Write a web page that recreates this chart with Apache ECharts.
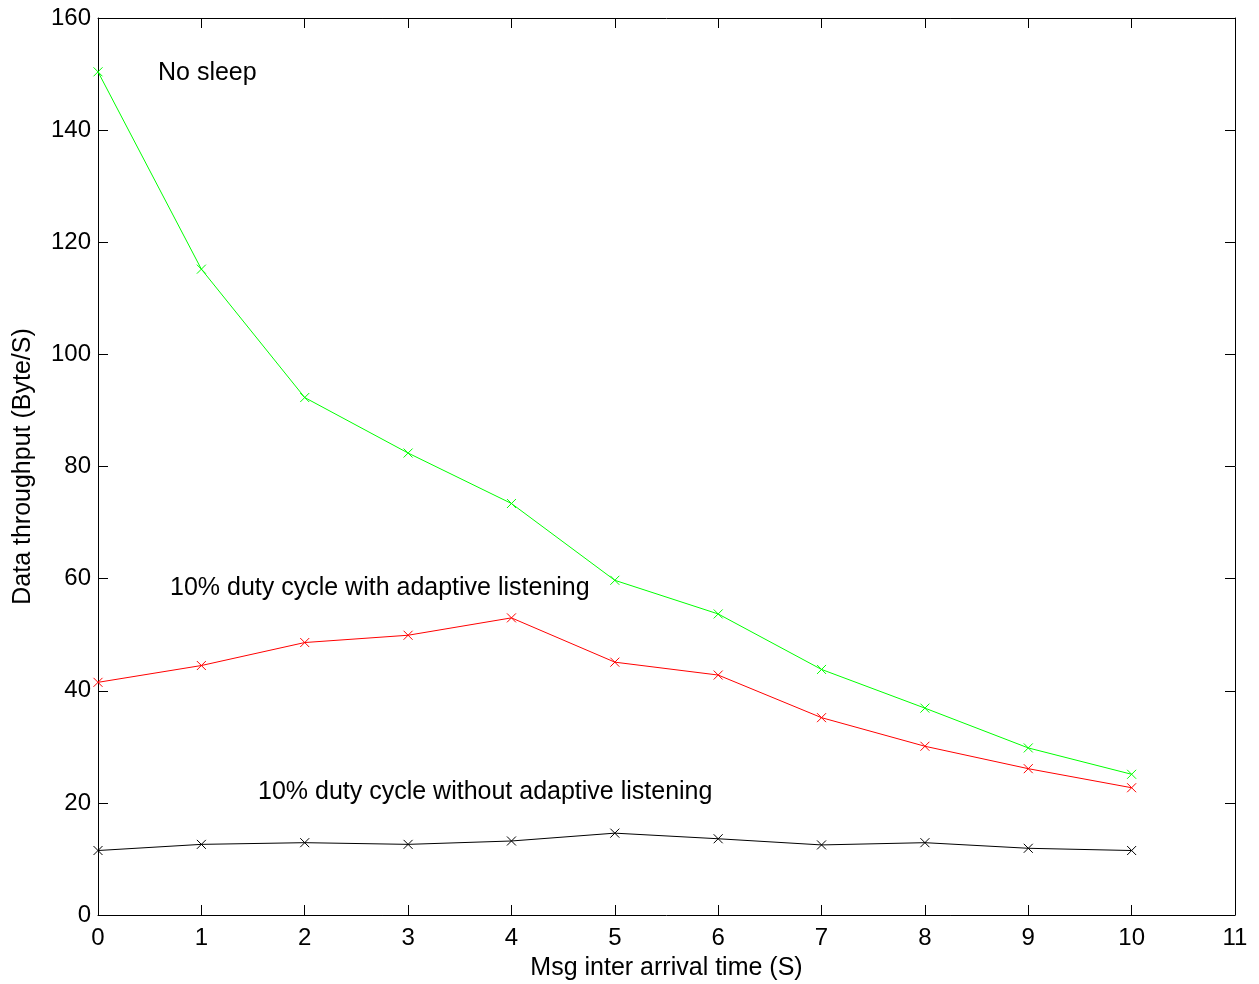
<!DOCTYPE html>
<html><head><meta charset="utf-8">
<script src="https://cdn.jsdelivr.net/npm/echarts@6/dist/echarts.min.js"></script>
<style>html,body{margin:0;padding:0;background:#fff}#c{width:1259px;height:984px}</style>
</head><body><div id="c"></div>
<script>
const xValues = [0,1,2,3,4,5,6,7,8,9,10];
const noSleep = [150.4,115.2,92.3,82.4,73.4,59.7,53.7,43.8,36.9,29.8,25.1];
const adaptive = [41.5,44.5,48.6,49.9,53.0,45.1,42.8,35.2,30.1,26.1,22.7];
const noAdaptive = [11.5,12.6,12.9,12.6,13.2,14.6,13.6,12.5,12.9,11.9,11.5];
const labels = ["No sleep","10% duty cycle with adaptive listening","10% duty cycle without adaptive listening"];

const FONT = 'Liberation Sans';
const FS = 24;
const cross = 'path://M0,0L10,10M10,0L0,10';
function mk(name, vals, color){
  return {name, type:'line', data: xValues.map((x,i)=>[x,vals[i]]),
    symbol: cross, symbolSize: 9, showSymbol:true,
    lineStyle:{color, width:1},
    itemStyle:{color:'none', borderColor:color, borderWidth:1},
    emphasis:{disabled:true}, animation:false};
}
const chart = echarts.init(document.getElementById('c'));
const axisCommon = {axisLine:{show:true,onZero:false,lineStyle:{color:'#000',width:1}},
  axisTick:{show:true,inside:true,length:10,lineStyle:{color:'#000'}},
  splitLine:{show:false}};
const tf = '25px "Liberation Sans"';
chart.setOption({
  animation:false,
  grid:{left:98,right:24,top:18,bottom:69,containLabel:false,outerBoundsMode:'none'},
  xAxis:[
    Object.assign({type:'value',min:0,max:11,interval:1,position:'bottom',
      name:'Msg inter arrival time (S)',nameLocation:'middle',nameGap:41,
      nameTextStyle:{fontFamily:FONT,fontSize:25,color:'#000'},
      axisLabel:{fontFamily:FONT,fontSize:FS,color:'#000',margin:11}},axisCommon),
    Object.assign({type:'value',min:0,max:11,interval:1,position:'top',axisLabel:{show:false}},axisCommon)
  ],
  yAxis:[
    Object.assign({type:'value',min:0,max:160,interval:20,position:'left',
      name:'Data throughput (Byte/S)',nameLocation:'middle',nameGap:62,
      nameTextStyle:{fontFamily:FONT,fontSize:25,color:'#000'},
      axisLabel:{fontFamily:FONT,fontSize:FS,color:'#000',margin:7}},axisCommon),
    Object.assign({type:'value',min:0,max:160,interval:20,position:'right',axisLabel:{show:false}},axisCommon)
  ],
  series:[mk(labels[0],noSleep,'#00ff00'), mk(labels[1],adaptive,'#ff0000'), mk(labels[2],noAdaptive,'#000000')],
  graphic:[
    {type:'text',left:158,top:61,style:{text:labels[0],font:tf,fill:'#000'}},
    {type:'text',left:170,top:576,style:{text:labels[1],font:tf,fill:'#000'}},
    {type:'text',left:258,top:780,style:{text:labels[2],font:tf,fill:'#000'}}
  ]
});
</script></body></html>
